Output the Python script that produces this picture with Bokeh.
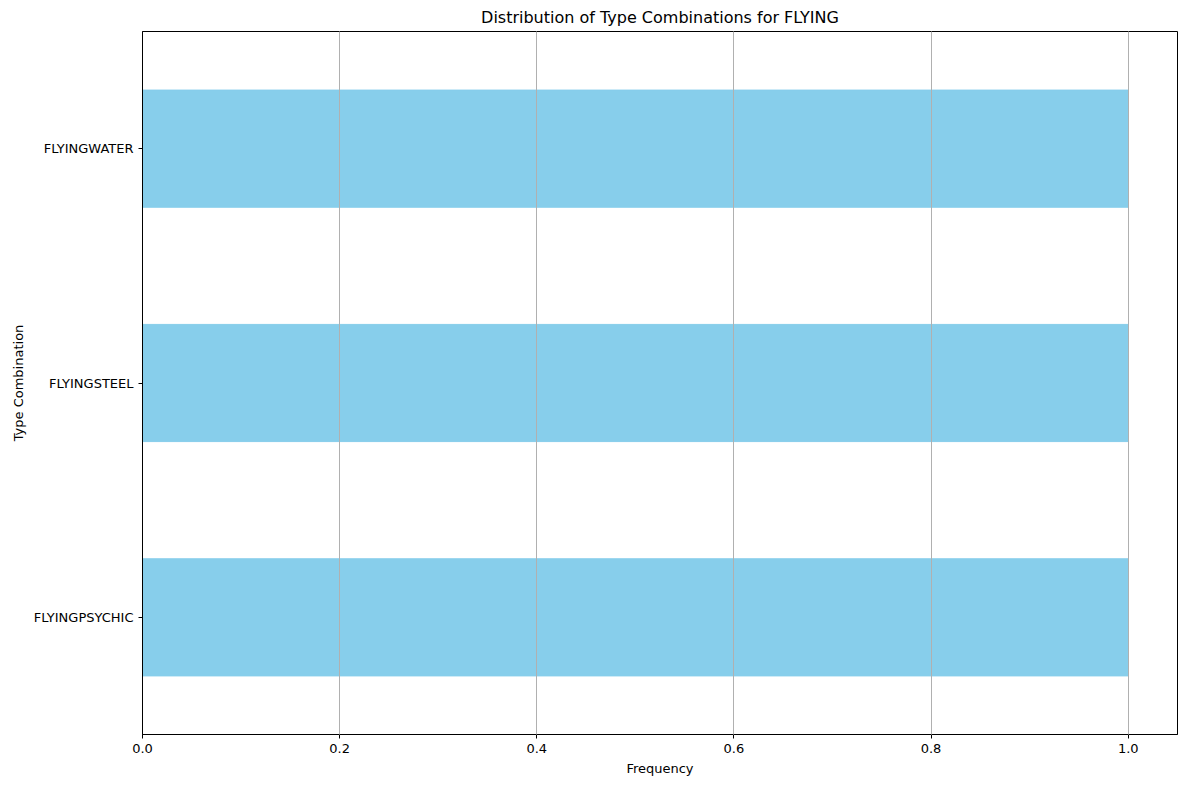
from bokeh.embed import file_html
from bokeh.resources import INLINE
from bokeh.plotting import figure
from bokeh.models import FixedTicker, NumeralTickFormatter, Range1d

categories = ["FLYINGPSYCHIC", "FLYINGSTEEL", "FLYINGWATER"]
counts = [1, 1, 1]
x_ticks = [0.0, 0.2, 0.4, 0.6, 0.8, 1.0]

p = figure(width=1184, height=784, y_range=categories, x_range=Range1d(0, 1.05),
           title="Distribution of Type Combinations for FLYING",
           output_backend="svg", toolbar_location=None,
           min_border_left=142, min_border_right=7, min_border_top=29, min_border_bottom=50)
p.y_range.range_padding = 0
p.hbar(y=categories, right=counts, left=0, height=0.5, color="#87ceeb")

p.title.align = "center"
p.title.text_font = "DejaVu Sans"
p.title.text_font_size = "16px"
p.title.text_font_style = "normal"
p.title.text_color = "black"

p.xaxis.axis_label = "Frequency"
p.yaxis.axis_label = "Type Combination"
for ax in (p.xaxis, p.yaxis):
    ax.axis_label_text_font = "DejaVu Sans"
    ax.axis_label_text_font_size = "13px"
    ax.axis_label_text_font_style = "normal"
    ax.axis_label_text_color = "black"
    ax.major_label_text_font = "DejaVu Sans"
    ax.major_label_text_font_size = "13px"
    ax.major_label_text_color = "black"
    ax.minor_tick_line_color = None
    ax.axis_line_color = "black"
    ax.major_tick_line_color = "black"
    ax.major_tick_out = 4
    ax.major_tick_in = 0
p.xaxis.ticker = FixedTicker(ticks=x_ticks)
p.xaxis.formatter = NumeralTickFormatter(format="0.0")

p.ygrid.grid_line_color = None
p.xgrid.grid_line_color = "#b0b0b0"
p.xgrid.level = "overlay"
p.outline_line_color = "black"

open("out.html", "w").write(file_html(p, INLINE))
